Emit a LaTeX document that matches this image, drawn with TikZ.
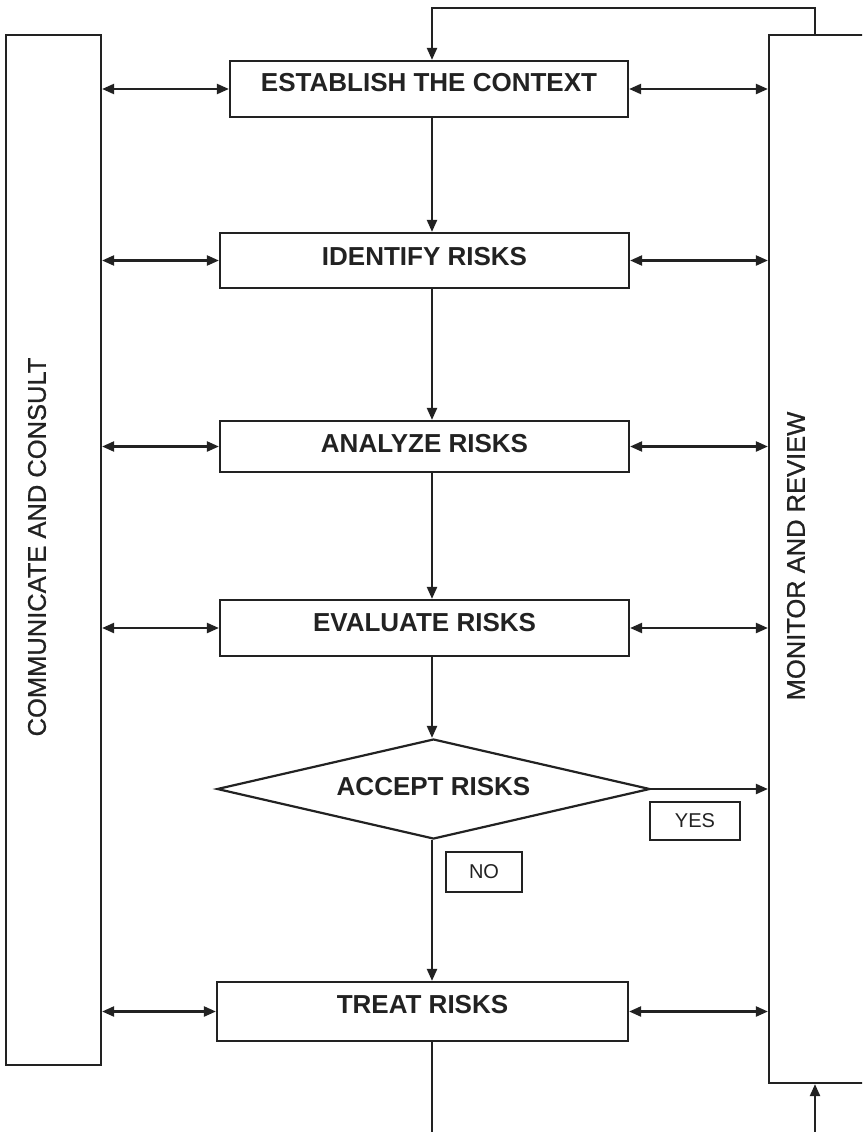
\documentclass[tikz,border=0pt]{standalone}
\usepackage{fontspec}
\setmainfont{Liberation Sans}
\newfontfamily\sidefont[BoldFont=Liberation Sans,BoldFeatures={FakeBold=0.8}]{Liberation Sans}
\usetikzlibrary{arrows.meta,shapes.geometric,calc}
\definecolor{ink}{HTML}{222222}
\begin{document}
\begin{tikzpicture}[x=1pt,y=-1pt,
  line/.style={draw=ink,line width=2.2pt},
  tip/.style={-{Triangle[length=12pt,width=10pt]}},
  both/.style={{Triangle[length=12pt,width=10pt]}-{Triangle[length=12pt,width=10pt]}},
  stepbox/.style={draw=ink,line width=2.2pt,fill=white,inner sep=0pt,
    font=\fontsize{26}{28}\selectfont\bfseries,text=ink,text depth=10pt},
  panel/.style={draw=ink,line width=2.2pt,inner sep=0pt},
  side/.style={font=\sidefont\bfseries\fontsize{25.5}{28}\selectfont,text=ink,rotate=90,inner sep=0pt},
  tag/.style={draw=ink,line width=1.8pt,font=\fontsize{20}{22}\selectfont,text=ink,inner sep=0pt}]

\path[use as bounding box,fill=white] (0,0) rectangle (862,1132);
\begin{scope}
\clip (0,0) rectangle (862,1132);

% side panels
\node[panel,minimum width=95pt,minimum height=1030pt] (cc) at (53.5,550) {};
\node[panel,minimum width=131pt,minimum height=1048pt] (mon) at (834.5,559) {};
\node[side] (ccl) at (37,547) {COMMUNICATE AND CONSULT};
\node[side] (monl) at (796,556) {MONITOR AND REVIEW};

% process steps
\node[stepbox,minimum width=398pt,minimum height=56pt,text depth=14pt] (est) at (429,89) {ESTABLISH THE CONTEXT};
\node[stepbox,minimum width=409pt,minimum height=55pt,text depth=9pt] (idf) at (424.5,260.5) {IDENTIFY RISKS};
\node[stepbox,minimum width=409pt,minimum height=51pt,text depth=6pt] (ana) at (424.5,446.5) {ANALYZE RISKS};
\node[stepbox,minimum width=409pt,minimum height=56pt,text depth=12pt] (eva) at (424.5,628) {EVALUATE RISKS};
\node[stepbox,shape=diamond,aspect=4.33,minimum width=433pt,minimum height=100pt,text depth=6pt] (acc) at (433.5,789) {ACCEPT RISKS};
\node[stepbox,minimum width=411pt,minimum height=59pt,text depth=15pt] (trt) at (422.5,1011.5) {TREAT RISKS};

% decision labels
\node[tag,minimum width=90pt,minimum height=38pt] (yes) at (695,821) {YES};
\node[tag,minimum width=76pt,minimum height=40pt] (no) at (484,872) {NO};

% helper points
\coordinate (spine) at (432,0);
\coordinate (loop) at (815,8);
\coordinate (downL) at (432,1140);
\coordinate (upR) at (815,1140);

% main flow
\draw[line,tip] (est.south -| spine) -- (idf.north -| spine);
\draw[line,tip] (idf.south -| spine) -- (ana.north -| spine);
\draw[line,tip] (ana.south -| spine) -- (eva.north -| spine);
\draw[line,tip] (eva.south -| spine) -- (acc.north -| spine);
\draw[line,tip] (acc.south -| spine) -- (trt.north -| spine);
\draw[line,tip] (acc.east) -- (acc.east -| mon.west);
\draw[line] (trt.south -| spine) -- (downL);

% feedback loops
\draw[line,tip] (mon.north -| loop) -- (loop) -| (est.north -| spine);
\draw[line,tip] (upR) -- (mon.south -| upR);

% links to the side panels
\foreach \s in {est,idf,ana,eva,trt}{
  \draw[line,both] (cc.east |- \s.west) -- (\s.west);
  \draw[line,both] (\s.east) -- (\s.east -| mon.west);
}
\end{scope}
\end{tikzpicture}
\end{document}
